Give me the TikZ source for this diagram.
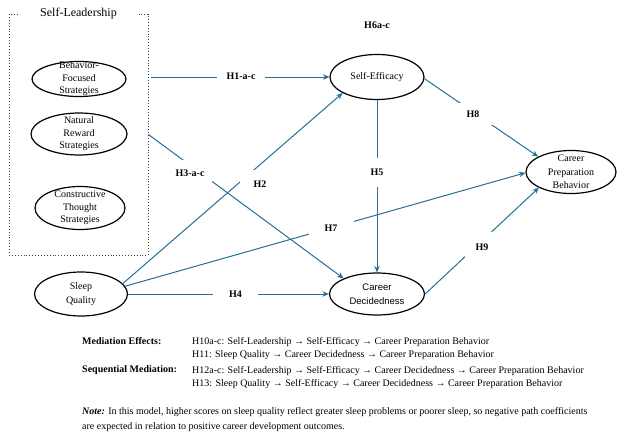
\documentclass[tikz,border=0pt]{standalone}
\usepackage{fontspec}
\setmainfont{Liberation Serif}
\newfontfamily\sansf{Liberation Sans}
\usetikzlibrary{arrows.meta,shapes.geometric}
\definecolor{pathc}{RGB}{38,110,150}
\begin{document}
\begin{tikzpicture}[x=1pt,y=-1pt,
  ell/.style={ellipse,draw=black,line width=1.2pt,fill=white,inner sep=0pt},
  etxt/.style={font=\fontsize{10}{12.5}\selectfont,align=center,inner sep=0pt},
  hlab/.style={fill=white,font=\bfseries\fontsize{10}{12}\selectfont,inner sep=0pt},
  conn/.style={draw=pathc,line width=1pt,-{Stealth[length=6.5pt,width=5.5pt]}},
  btxt/.style={anchor=base west,font=\fontsize{10}{12.5}\selectfont,inner sep=0pt},
  bhead/.style={anchor=base west,font=\bfseries\fontsize{10}{12.5}\selectfont,inner sep=0pt}
]
\useasboundingbox (0,0) rectangle (617,436);

% Self-Leadership group
\node[draw=black!75,dotted,line width=0.9pt,minimum width=139pt,minimum height=241pt,inner sep=0pt] (SL) at (78.5,134.5) {};
\node[fill=white,font=\fontsize{12}{14}\selectfont,minimum width=118pt,minimum height=20pt,inner sep=0pt] (SLt) at (78.5,14) {Self-Leadership};

\node[ell,minimum width=94pt,minimum height=35pt,label={[etxt]center:Behavior-\\Focused\\Strategies}] (BF) at (79,79) {};
\node[ell,minimum width=96pt,minimum height=42pt,label={[etxt]center:Natural\\Reward\\Strategies}] (NR) at (79,134) {};
\node[ell,minimum width=90pt,minimum height=43pt,label={[etxt]center:Constructive\\Thought\\Strategies}] (CT) at (80,208) {};

% other constructs
\node[ell,minimum width=93pt,minimum height=44pt,label={[etxt,font=\fontsize{10}{14}\selectfont]center:Sleep\\Quality}] (SQ) at (81,294) {};
\node[ell,minimum width=94pt,minimum height=45pt,label={[etxt]center:Self-Efficacy}] (SE) at (377,77) {};
\node[ell,minimum width=95pt,minimum height=42pt,label={[etxt,font=\sansf\fontsize{9.5}{14}\selectfont]center:Career\\Decidedness}] (CD) at (377,294) {};
\node[ell,minimum width=90pt,minimum height=43pt,label={[etxt,font=\fontsize{10}{13.5}\selectfont]center:Career\\Preparation\\Behavior}] (CP) at (571,172) {};

% connectors
\path[conn,shorten <=3pt] (SL.east |- SE.west) -- (SE.west);
\path[conn] (SL.east) -- (CD.155);
\path[conn] (SQ.14) -- (SE.205);
\path[conn] (SQ.10) -- (CP.181);
\path[conn] (SQ.east) -- (CD.west);
\path[conn] (SE.south) -- (CD.north);
\path[conn] (SE.-2) -- (CP.155);
\path[conn] (CD.east) -- (CP.206);

% path labels
\node[hlab,minimum width=48pt,minimum height=14pt] (h1) at (241,76) {H1-a-c};
\node[hlab,minimum width=40pt,minimum height=28pt] (h2) at (260,184) {H2};
\node[hlab,minimum width=44pt,minimum height=26pt] (h3) at (190,173) {H3-a-c};
\node[hlab,minimum width=45pt,minimum height=16pt] (h4) at (235.5,294) {H4};
\node[hlab,minimum width=30pt,minimum height=29pt] (h5) at (377,172) {H5};
\node[hlab] (h6) at (377,25) {H6a-c};
\node[hlab,minimum width=45pt,minimum height=22pt] (h7) at (331,228) {H7};
\node[hlab,minimum width=43pt,minimum height=22pt] (h8) at (473,114) {H8};
\node[hlab,minimum width=35pt,minimum height=30pt] (h9) at (482,247) {H9};

% bottom text
\node[bhead] (me) at (82,344) {Mediation Effects:};
\node[btxt] (m1) at (192,344) {H10a-c: Self-Leadership → Self-Efficacy → Career Preparation Behavior};
\node[btxt] (m2) at (192,357) {H11: Sleep Quality → Career Decidedness → Career Preparation Behavior};
\node[bhead] (sm) at (82,372) {Sequential Mediation:};
\node[btxt] (s1) at (192,373) {H12a-c: Self-Leadership → Self-Efficacy → Career Decidedness → Career Preparation Behavior};
\node[btxt] (s2) at (192,386) {H13: Sleep Quality → Self-Efficacy → Career Decidedness → Career Preparation Behavior};
\node[btxt] (n1) at (82,414) {\textbf{\textit{Note:}} In this model, higher scores on sleep quality reflect greater sleep problems or poorer sleep, so negative path coefficients};
\node[btxt] (n2) at (82,429) {are expected in relation to positive career development outcomes.};
\end{tikzpicture}
\end{document}
